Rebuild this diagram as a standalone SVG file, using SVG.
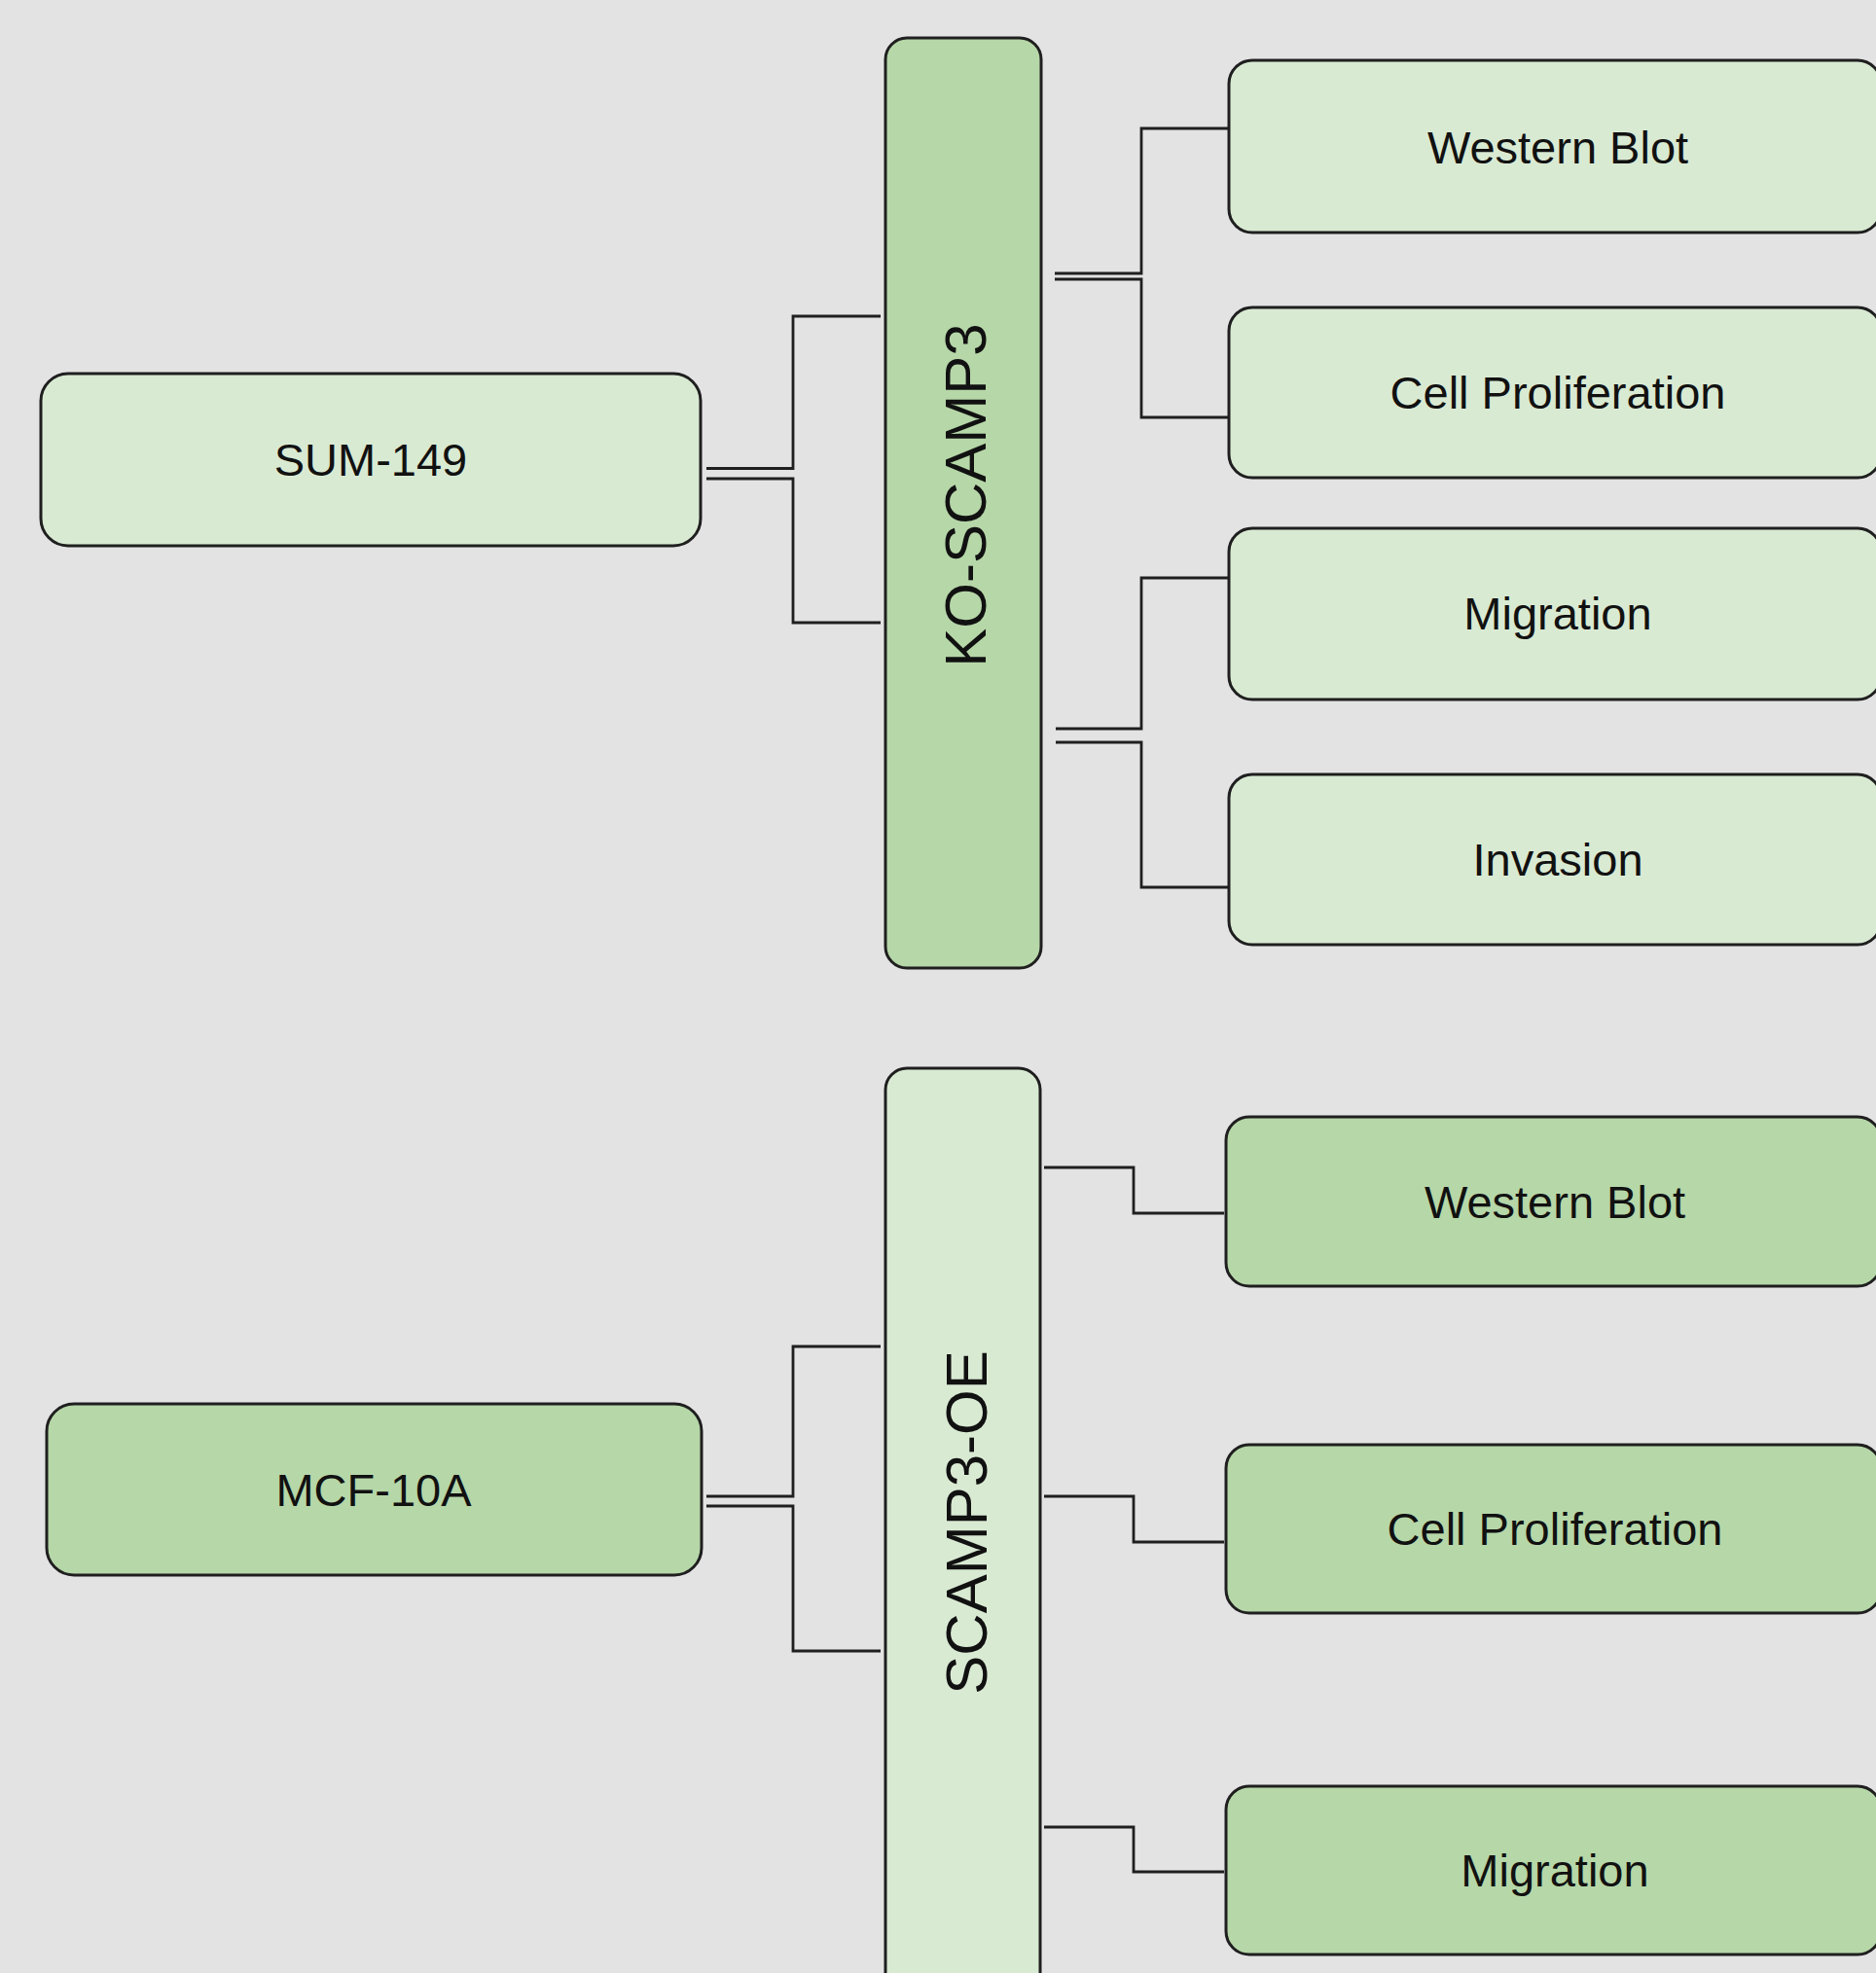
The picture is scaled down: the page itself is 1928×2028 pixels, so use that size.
<svg xmlns="http://www.w3.org/2000/svg" width="1928" height="2028" viewBox="0 0 1928 2028">
<style>
.bg{fill:#e3e3e3}
.lt{fill:#d9ead3;stroke:#1f1f1f;stroke-width:3}
.dk{fill:#b6d7a8;stroke:#1f1f1f;stroke-width:3}
.lbl{font-family:"Liberation Sans",Arial,sans-serif;font-size:47px;fill:#111;text-anchor:middle}
.vl{font-family:"Liberation Sans",Arial,sans-serif;font-size:60px;fill:#111;text-anchor:middle}
.c{fill:none;stroke:#1f1f1f;stroke-width:2.8}
</style>
<rect class="bg" x="0" y="0" width="1928" height="2028"/>
<g id="connectors">
<path class="c" d="M726 481.5 H815 V325 H905"/>
<path class="c" d="M726 492 H815 V640 H905"/>
<path class="c" d="M1084 281 H1173 V132 H1263"/>
<path class="c" d="M1084 287 H1173 V429 H1263"/>
<path class="c" d="M1085 749 H1173 V594 H1263"/>
<path class="c" d="M1085 763 H1173 V912 H1263"/>
<path class="c" d="M726 1538 H815 V1384 H905"/>
<path class="c" d="M726 1548 H815 V1697 H905"/>
<path class="c" d="M1073 1200 H1165 V1247 H1258"/>
<path class="c" d="M1073 1538 H1165 V1585 H1258"/>
<path class="c" d="M1073 1878 H1165 V1924 H1258"/>
</g>
<g id="sum149"><rect class="lt" x="42" y="384" width="678" height="177" rx="28"/><text class="lbl" x="381" y="489">SUM-149</text></g>
<g id="ko-scamp3"><rect class="dk" x="910" y="39" width="160" height="956" rx="22"/><text class="vl" transform="translate(1013 509) rotate(-90)" x="0" y="0">KO-SCAMP3</text></g>
<g id="wb1"><rect class="lt" x="1263" y="62" width="670" height="177" rx="24"/><text class="lbl" x="1601" y="168">Western Blot</text></g>
<g id="cp1"><rect class="lt" x="1263" y="316" width="670" height="175" rx="24"/><text class="lbl" x="1601" y="420">Cell Proliferation</text></g>
<g id="mig1"><rect class="lt" x="1263" y="543" width="670" height="176" rx="24"/><text class="lbl" x="1601" y="647">Migration</text></g>
<g id="inv1"><rect class="lt" x="1263" y="796" width="670" height="175" rx="24"/><text class="lbl" x="1601" y="900">Invasion</text></g>
<g id="mcf10a"><rect class="dk" x="48" y="1443" width="673" height="176" rx="28"/><text class="lbl" x="384" y="1548">MCF-10A</text></g>
<g id="scamp3-oe"><rect class="lt" x="910" y="1098" width="159" height="960" rx="22"/><text class="vl" transform="translate(1014 1565) rotate(-90)" x="0" y="0">SCAMP3-OE</text></g>
<g id="wb2"><rect class="dk" x="1260" y="1148" width="673" height="174" rx="24"/><text class="lbl" x="1598" y="1252">Western Blot</text></g>
<g id="cp2"><rect class="dk" x="1260" y="1485" width="673" height="173" rx="24"/><text class="lbl" x="1598" y="1588">Cell Proliferation</text></g>
<g id="mig2"><rect class="dk" x="1260" y="1836" width="673" height="173" rx="24"/><text class="lbl" x="1598" y="1939">Migration</text></g>
</svg>
